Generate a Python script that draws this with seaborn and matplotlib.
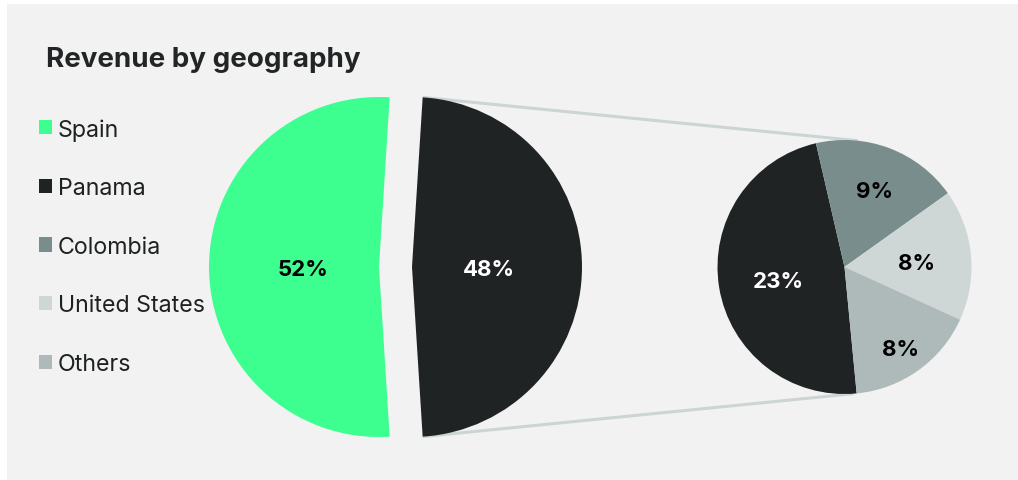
import numpy as np
import matplotlib.pyplot as plt
import seaborn as sns
from matplotlib.patches import Patch, Rectangle

# data
countries = ["Spain", "Panama", "Colombia", "United States", "Others"]
big_labels = ["Spain", "Rest"]
big_values = [52, 48]
small_labels = ["Panama", "Colombia", "United States", "Others"]
small_values = [23, 9, 8, 8]

colors = {"Spain": "#3DFF90", "Panama": "#202324", "Colombia": "#7A8D8D",
          "United States": "#CFD7D6", "Others": "#ADBAB9"}

sns.set_theme(style="white")
plt.rcParams["font.family"] = ["Inter", "DejaVu Sans"]

W, H = 1018, 481
S = 170.0  # pixels per data unit (big pie radius = 1)


def px(x, y):
    return x / S, (H - y) / S


fig = plt.figure(figsize=(W / 100, H / 100), dpi=100, facecolor="white")
fig.patches.append(Rectangle((7 / W, 0), 1, 1 - 5 / H, transform=fig.transFigure,
                             facecolor="#F2F2F2", edgecolor="none", zorder=-10))
ax = fig.add_axes([0, 0, 1, 1])
ax.set_facecolor("none")

# big pie
big_center = px(395.5, 268)
big_wedges, _ = ax.pie(big_values, colors=[colors["Spain"], colors["Panama"]],
                       startangle=86.4, explode=[0.097, 0.097], radius=1.0,
                       center=big_center, wedgeprops=dict(linewidth=0))
for w, v, c in zip(big_wedges, big_values, ["black", "white"]):
    tm = np.deg2rad((w.theta1 + w.theta2) / 2)
    cx, cy = w.center
    ax.text(cx + 0.45 * np.cos(tm), cy + 0.45 * np.sin(tm) - 0.01, f"{v}%",
            ha="center", va="center", fontsize=16, fontweight="bold", color=c)

# small pie
small_center = px(844.5, 268)
small_r = 127 / S
small_wedges, _ = ax.pie(small_values, colors=[colors[k] for k in small_labels],
                         startangle=275.5, counterclock=False, radius=small_r,
                         center=small_center, wedgeprops=dict(linewidth=0))
label_dist = [0.53, 0.67, 0.57, 0.76]
label_col = ["white", "black", "black", "black"]
for w, v, d, c in zip(small_wedges, small_values, label_dist, label_col):
    tm = np.deg2rad((w.theta1 + w.theta2) / 2)
    ax.text(small_center[0] + d * small_r * np.cos(tm),
            small_center[1] + d * small_r * np.sin(tm) - 0.02, f"{v}%",
            ha="center", va="center", fontsize=16, fontweight="bold", color=c)

# connector lines between the dark wedge and the small pie
dark = big_wedges[1]
for th_big, th_small in [(dark.theta2, 84), (dark.theta1, -86)]:
    x0 = dark.center[0] + dark.r * np.cos(np.deg2rad(th_big))
    y0 = dark.center[1] + dark.r * np.sin(np.deg2rad(th_big))
    x1 = small_center[0] + small_r * np.cos(np.deg2rad(th_small))
    y1 = small_center[1] + small_r * np.sin(np.deg2rad(th_small))
    ax.plot([x0, x1], [y0, y1], color="#CDD5D4", lw=2.2, zorder=0.5,
            solid_capstyle="butt")

ax.set_xlim(0, W / S)
ax.set_ylim(0, H / S)
ax.set_aspect("equal")
ax.axis("off")

fig.text(46 / W, 1 - 67 / H, "Revenue by geography", ha="left", va="baseline",
         fontsize=20, fontweight="bold", color="#222526")

handles = [Patch(facecolor=colors[k], edgecolor="none") for k in countries]
fig.legend(handles, countries, loc="upper left", bbox_to_anchor=(39 / W, 1 - 119 / H),
           frameon=False, fontsize=16.7, handlelength=0.57, handleheight=0.57,
           handletextpad=0.25, labelspacing=1.58, borderpad=0, borderaxespad=0,
           labelcolor="#1E2122")

fig.savefig("out.png", dpi=100, facecolor=fig.get_facecolor())
